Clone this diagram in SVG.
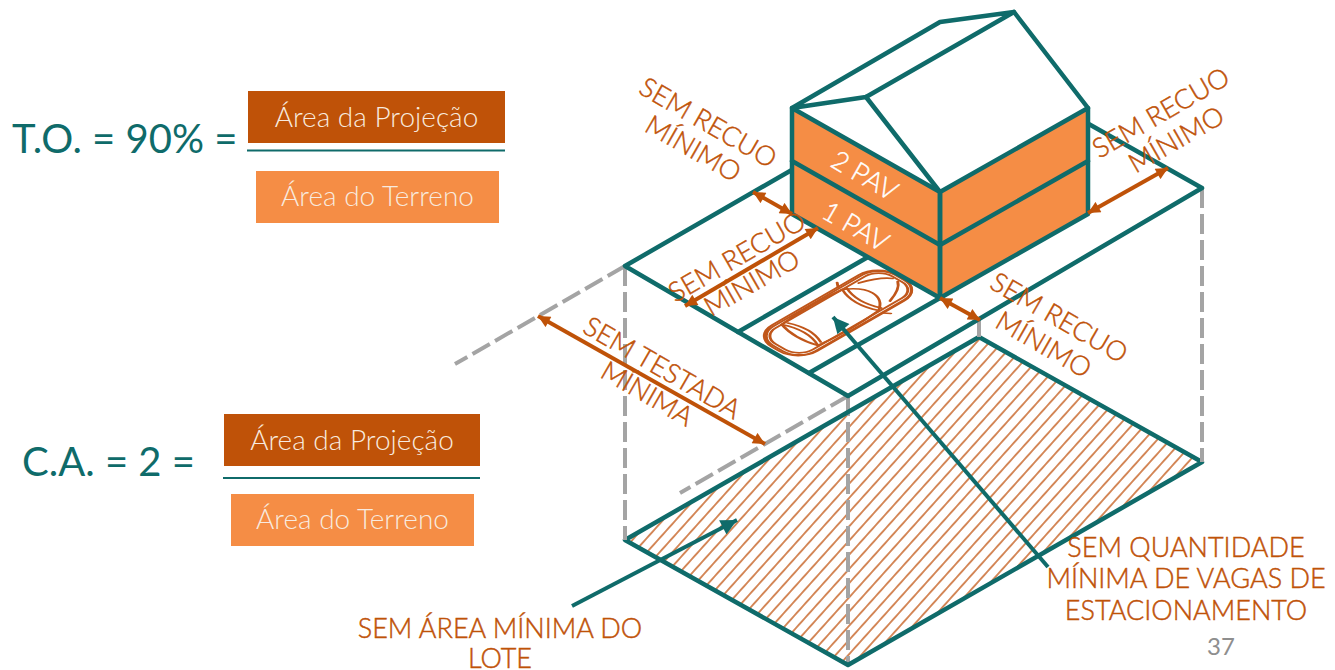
<svg xmlns="http://www.w3.org/2000/svg" width="1335" height="670" viewBox="0 0 1335 670">
  <style>
    .teal { fill: none; stroke: #0f6b6a; stroke-width: 4.5; stroke-linejoin: round; stroke-linecap: round; }
    .dash { fill: none; stroke: #a4a4a4; stroke-width: 4; stroke-dasharray: 20 6; }
    .dim { fill: none; stroke: #bf5208; stroke-width: 4; marker-start: url(#ao); marker-end: url(#ao); }
    .lead { fill: none; stroke: #0f6b6a; stroke-width: 4; marker-end: url(#at); }
    .lbl { font-family: Lato, "Open Sans", sans-serif; font-weight: 300; fill: #bf5208; stroke: #bf5208; stroke-width: 0.45; }
    .pav { font-family: Lato, "Open Sans", sans-serif; font-weight: 300; fill: #ffffff; stroke: #ffffff; stroke-width: 0.4; font-size: 27px; text-anchor: middle; }
    .eq { font-family: Lato, "Open Sans", sans-serif; font-weight: 400; fill: #0f6b6a; font-size: 40px; }
    .box { font-family: Lato, "Open Sans", sans-serif; font-weight: 300; fill: #f8eadf; font-size: 28px; text-anchor: middle; }
    .face { fill: #f58d45; }
    .white { fill: #ffffff; }
  </style>
  <defs>
    <marker id="ao" viewBox="0 0 10 10" refX="10" refY="5" markerWidth="14" markerHeight="12" markerUnits="userSpaceOnUse" orient="auto-start-reverse">
      <path d="M0,0 L10,5 L0,10 z" fill="#bf5208"/>
    </marker>
    <marker id="at" viewBox="0 0 10 10" refX="10" refY="5" markerWidth="19" markerHeight="16" markerUnits="userSpaceOnUse" orient="auto">
      <path d="M0,0 L10,5 L0,10 z" fill="#0f6b6a"/>
    </marker>
    <pattern id="hatch" patternUnits="userSpaceOnUse" width="9.5" height="20" patternTransform="rotate(42)">
      <rect width="9.5" height="20" fill="#ffffff"/>
      <line x1="4.75" y1="0" x2="4.75" y2="20" stroke="#c8662a" stroke-width="1.5"/>
    </pattern>
  </defs>

  <!-- formulas -->
  <g id="formula-to">
    <text class="eq" x="12" y="153">T.O. = 90% =</text>
    <rect x="248" y="91" width="257" height="52" fill="#bf5208"/>
    <text class="box" x="376.5" y="127">Área da Projeção</text>
    <line x1="247" y1="150.5" x2="505" y2="150.5" stroke="#0f6b6a" stroke-width="2"/>
    <rect x="256" y="171" width="243" height="52" fill="#f58d45"/>
    <text class="box" x="377.5" y="206">Área do Terreno</text>
  </g>
  <g id="formula-ca">
    <text class="eq" x="22" y="476">C.A. = 2 =</text>
    <rect x="224" y="414" width="256" height="52" fill="#bf5208"/>
    <text class="box" x="352" y="450">Área da Projeção</text>
    <line x1="223" y1="478" x2="480" y2="478" stroke="#0f6b6a" stroke-width="2"/>
    <rect x="231" y="494" width="243" height="52" fill="#f58d45"/>
    <text class="box" x="352.5" y="529">Área do Terreno</text>
  </g>

  <!-- ground plane of the lot -->
  <g id="ground">
    <polygon points="625,540 848,665 1202,462 979,337" fill="url(#hatch)"/>
    <line class="dash" x1="848" y1="396" x2="848" y2="665"/>
    <polygon class="teal" points="625,540 848,665 1202,462 979,337"/>
  </g>

  <!-- lot volume edges -->
  <g id="lot-edges">
    <line class="dash" x1="625" y1="266" x2="625" y2="540"/>
    <line class="dash" x1="1202" y1="188" x2="1202" y2="462"/>
    <line class="dash" x1="979" y1="318" x2="979" y2="337"/>
    <line class="dash" x1="625" y1="266" x2="455" y2="364"/>
    <line class="dash" x1="848" y1="396" x2="680" y2="493"/>
  </g>

  <!-- top of the lot -->
  <g id="lot-top">
    <polygon class="white" points="625,266 848,396 1202,188 979,62"/>
    <polygon class="teal" points="625,266 848,396 1202,188 979,62"/>
    <line class="teal" x1="738" y1="332" x2="868" y2="257"/>
    <line class="teal" x1="809" y1="373" x2="940" y2="298"/>
  </g>

  <!-- parked car -->
  <g id="car" transform="matrix(0.866,-0.5,0.866,0.5,838,313)" fill="none" stroke="#c0561a" stroke-width="2.4" stroke-linecap="round">
    <rect x="-72" y="-26" width="144" height="52" rx="22" ry="22"/>
    <rect x="-70" y="-24" width="141" height="49" rx="19" ry="19"/>
    <rect x="-67" y="-21" width="135" height="43" rx="16" ry="16"/>
    <path d="M-44,-21 Q-10,-25 26,-21 Q40,-12 40,0 Q40,12 26,21 Q-10,25 -44,21 Q-51,0 -44,-21 z"/>
    <path d="M26,-21 Q16,0 26,21"/>
    <path d="M30,-20 Q21,0 30,20"/>
    <path d="M-44,-21 Q-34,0 -44,21"/>
    <path d="M-39,-19 Q-30,0 -39,19"/>
    <path d="M42,-18 Q60,-12 66,-3"/>
    <path d="M42,18 Q60,12 66,3"/>
    <path d="M26,-26 l4,-5 M26,26 l4,5"/>
  </g>

  <!-- house -->
  <g id="house">
    <polygon class="face" points="792,108 940,192 940,298 792,214"/>
    <polygon class="face" points="940,192 1088,108 1088,214 940,298"/>
    <polygon class="white" points="792,108 940,22 1014,12 866,97"/>
    <polygon class="white" points="940,192 866,97 1014,12 1088,108"/>
    <polygon class="white" points="792,108 866,97 940,192"/>
    <polygon class="teal" points="792,108 940,192 940,298 792,214"/>
    <polygon class="teal" points="940,192 1088,108 1088,214 940,298"/>
    <polyline class="teal" points="792,108 940,22 1014,12 866,97 792,108"/>
    <line class="teal" x1="866" y1="97" x2="940" y2="192"/>
    <line class="teal" x1="1014" y1="12" x2="1088" y2="108"/>
    <polyline class="teal" points="792,161 940,245 1088,161"/>
    <text class="pav" transform="translate(865,175) rotate(30)" y="10">2 PAV</text>
    <text class="pav" transform="translate(856,226) rotate(30)" y="10">1 PAV</text>
  </g>

  <!-- dimension arrows -->
  <g id="dimensions">
    <line class="dim" x1="753" y1="192" x2="792" y2="214"/>
    <line class="dim" x1="685" y1="306" x2="818" y2="228"/>
    <line class="dim" x1="1088" y1="213" x2="1168" y2="168"/>
    <line class="dim" x1="940" y1="298" x2="980" y2="320"/>
    <line class="dim" x1="538" y1="316" x2="765" y2="444"/>
  </g>

  <!-- dimension labels -->
  <g id="dim-labels" class="lbl" font-size="27" text-anchor="middle">
    <g transform="translate(708,123) rotate(30)"><text y="9">SEM RECUO</text><text y="39">MÍNIMO</text></g>
    <g transform="translate(1161,113) rotate(-30)"><text y="9">SEM RECUO</text><text y="40">MÍNIMO</text></g>
    <g transform="translate(737,257) rotate(-30)"><text y="9">SEM RECUO</text><text y="39">MÍNIMO</text></g>
    <g transform="translate(1059,318) rotate(30)"><text y="9">SEM RECUO</text><text y="40">MÍNIMO</text></g>
    <g transform="translate(662,368) rotate(30)"><text y="9">SEM TESTADA</text><text y="39">MÍNIMA</text></g>
  </g>

  <!-- leaders -->
  <g id="connectors">
    <line class="lead" x1="1048" y1="567" x2="833" y2="317"/>
    <line class="lead" x1="572" y1="606" x2="737" y2="520"/>
  </g>

  <g id="label-lote" class="lbl" font-size="27" text-anchor="middle">
    <text x="500" y="638">SEM ÁREA MÍNIMA DO</text>
    <text x="500" y="668">LOTE</text>
  </g>
  <g id="label-vagas" class="lbl" font-size="27" text-anchor="middle">
    <text x="1186" y="557">SEM QUANTIDADE</text>
    <text x="1186" y="588">MÍNIMA DE VAGAS DE</text>
    <text x="1186" y="620">ESTACIONAMENTO</text>
  </g>
  <text id="page" x="1221" y="655" text-anchor="middle" font-family="Lato, 'Open Sans', sans-serif" font-size="24" fill="#8e8e8e">37</text>
</svg>
